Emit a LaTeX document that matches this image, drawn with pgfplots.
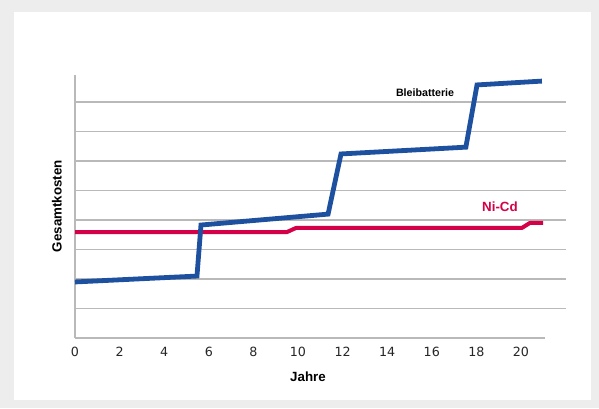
\documentclass[border=0pt]{standalone}
\usepackage{fontspec}
\setmainfont{Liberation Sans}
\newfontfamily\dejavu{DejaVu Sans}
\usepackage{pgfplots}
\pgfplotsset{compat=1.18}
\definecolor{bleiblue}{RGB}{30,80,160}
\definecolor{nicdred}{RGB}{212,0,72}
\definecolor{gridgray}{RGB}{185,185,185}
\begin{document}
\begin{tikzpicture}
\fill[gray!14] (0,0) rectangle (449.25pt,306pt);
\fill[white] (10.5pt,6pt) rectangle (443.25pt,297pt);
\begin{axis}[
  at={(56.25pt,52.5pt)}, anchor=south west,
  scale only axis, width=367.9pt, height=196.9pt,
  xmin=0, xmax=22, ymin=0, ymax=8.9,
  axis lines=left, axis line style={-, gridgray, line width=0.8pt},
  x axis line style={draw=none},
  xtick={0,2,...,20}, ytick={1,...,8}, yticklabels={},
  major tick length=0pt,
  ymajorgrids, grid style={gridgray, line width=0.8pt},
  /pgf/number format/assume math mode=true,
  xticklabel style={font=\dejavu\fontsize{9.5}{11}\selectfont, text=black!85,
    text height=7pt, text depth=0pt, yshift=-3pt},
  clip=false,
]
\draw[gridgray, line width=0.8pt] (axis cs:0,0) -- (axis cs:21.1,0);
\addplot[nicdred, line width=3pt, line join=round] coordinates {
  (0,3.59) (9.5,3.59) (9.91,3.73) (20.04,3.73) (20.4,3.9) (20.99,3.9)};
\addplot[bleiblue, line width=3.6pt, line join=miter] coordinates {
  (0,1.9) (5.47,2.1) (5.65,3.83) (11.35,4.2) (11.93,6.24) (17.53,6.47) (18.03,8.58) (20.94,8.71)};
\node[font=\bfseries\fontsize{8}{9}\selectfont] at (axis cs:15.7,8.3) {Bleibatterie};
\node[font=\bfseries\fontsize{10}{12}\selectfont, text=nicdred] at (axis cs:19.06,4.44) {Ni-Cd};
\node[font=\bfseries\fontsize{10}{12}\selectfont] at (axis cs:10.45,-1.32) {Jahre};
\node[font=\bfseries\fontsize{10}{12}\selectfont, rotate=90] at (axis cs:-0.81,4.47) {Gesamtkosten};
\end{axis}
\end{tikzpicture}
\end{document}
